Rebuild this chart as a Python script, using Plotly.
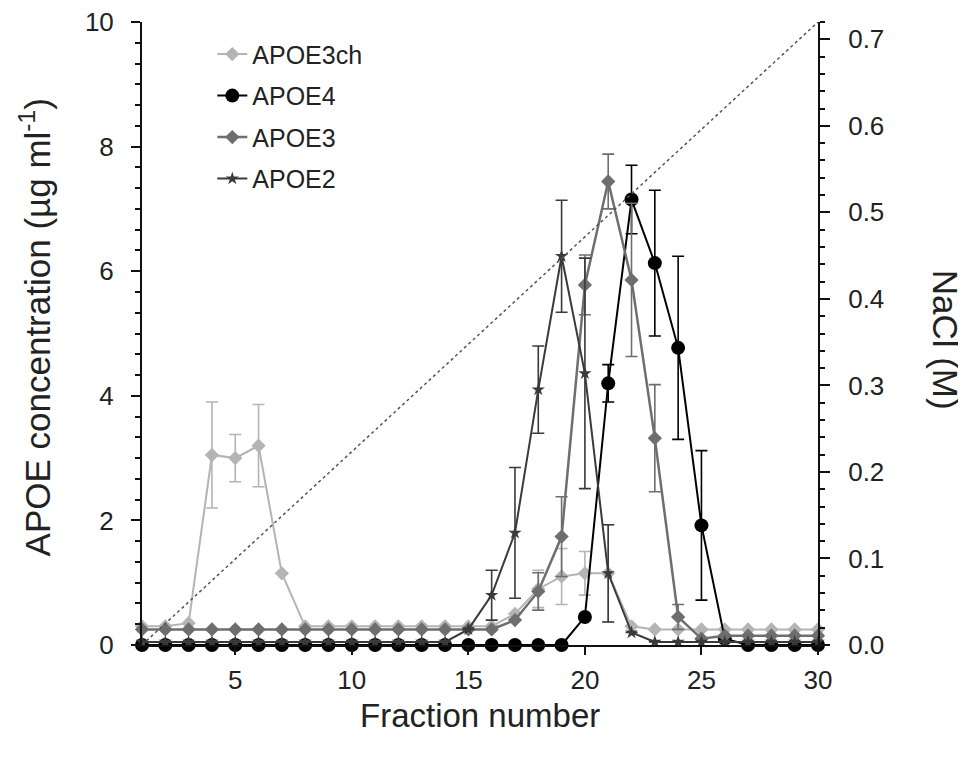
import plotly.graph_objects as go

fraction = list(range(1, 31))

apoe3ch = [0.3, 0.3, 0.35, 3.05, 3.0, 3.2, 1.15, 0.3, 0.3, 0.3,
           0.3, 0.3, 0.3, 0.3, 0.3, 0.3, 0.5, 0.9, 1.1, 1.15,
           1.15, 0.3, 0.25, 0.25, 0.25, 0.25, 0.25, 0.25, 0.25, 0.25]
apoe3ch_err = [0, 0, 0, 0.85, 0.38, 0.66, 0, 0, 0, 0,
               0, 0, 0, 0, 0, 0, 0, 0.3, 0.45, 0.35,
               0.78, 0, 0, 0, 0, 0, 0, 0, 0, 0]

apoe4 = [0] * 19 + [0.45, 4.2, 7.15, 6.13, 4.77, 1.92, 0.1, 0, 0, 0, 0]
apoe4_err = [0] * 19 + [0, 0.3, 0.55, 1.17, 1.47, 1.2, 0, 0, 0, 0, 0]

apoe3 = [0.25] * 15 + [0.25, 0.4, 0.86, 1.74, 5.78, 7.44, 5.86, 3.32, 0.45, 0.1,
                       0.15, 0.15, 0.15, 0.15, 0.15]
apoe3_err = [0] * 15 + [0, 0, 0.3, 0.64, 0.48, 0.44, 1.23, 0.86, 0.2, 0,
                        0, 0, 0, 0, 0]

apoe2 = [0.05] * 14 + [0.25, 0.8, 1.8, 4.1, 6.24, 4.36, 1.15, 0.2,
                       0.05, 0.05, 0.05, 0.05, 0.05, 0.05, 0.05, 0.05]
apoe2_err = [0] * 14 + [0, 0.4, 1.05, 0.7, 0.9, 1.85, 0.78, 0,
                        0, 0, 0, 0, 0, 0, 0, 0]

nacl_fraction = [1, 30]
nacl_conc = [0.0, 0.72]

x_ticks = [5, 10, 15, 20, 25, 30]
y_ticks = [0, 2, 4, 6, 8, 10]
y2_ticks = [0.0, 0.1, 0.2, 0.3, 0.4, 0.5, 0.6, 0.7]

FONT = "Liberation Sans, Arial, sans-serif"
TXT = "#222222"

fig = go.Figure()

fig.add_trace(go.Scatter(
    x=nacl_fraction, y=nacl_conc, yaxis="y2", mode="lines",
    line=dict(color="#555555", width=1.5, dash="dot"),
    showlegend=False, hoverinfo="skip"))

def add_series(name, y, err, color, symbol, size, lw, group):
    fig.add_trace(go.Scatter(
        x=fraction, y=y, name=name, mode="lines+markers",
        line=dict(color=color, width=lw),
        marker=dict(symbol=symbol, size=size, color=color,
                    line=dict(width=0)),
        error_y=dict(type="data", array=err, visible=True,
                     color=color, thickness=1.6, width=6),
        legendgroup=group, cliponaxis=False))

add_series("APOE3ch", apoe3ch, apoe3ch_err, "#b4b4b4", "diamond", 11, 2, "g1")
add_series("APOE4", apoe4, apoe4_err, "#000000", "circle", 14, 2, "g2")
add_series("APOE3", apoe3, apoe3_err, "#6e6e6e", "diamond", 11, 2.5, "g3")
add_series("APOE2", apoe2, apoe2_err, "#3a3a3a", "star", 10, 2, "g4")

fig.update_layout(
    width=958, height=757,
    margin=dict(l=134, r=148, t=14, b=120, autoexpand=False),
    paper_bgcolor="white", plot_bgcolor="white",
    font=dict(family=FONT, size=22, color=TXT),
    showlegend=True,
    legend=dict(x=0.104, y=0.985, xanchor="left", yanchor="top",
                bgcolor="rgba(0,0,0,0)", traceorder="grouped",
                tracegroupgap=6, font=dict(size=25, color=TXT)),
    xaxis=dict(range=[1, 30], tickvals=x_ticks, showgrid=False, zeroline=False,
               showline=True, linecolor="#111111", linewidth=2,
               ticks="outside", ticklen=8, tickwidth=2, tickcolor="#111111",
               ticklabelstandoff=3, ticklabeloverflow="allow", automargin=False,
               tickfont=dict(size=26, color=TXT)),
    yaxis=dict(range=[0, 10], tickvals=y_ticks, showgrid=False, zeroline=False,
               showline=True, linecolor="#111111", linewidth=2,
               ticks="outside", ticklen=9, tickwidth=2, tickcolor="#111111",
               minor=dict(dtick=1/3, ticks="outside", ticklen=5,
                          tickcolor="#111111", showgrid=False),
               ticklabelstandoff=12, ticklabeloverflow="allow", automargin=False,
               tickfont=dict(size=26, color=TXT)),
    yaxis2=dict(range=[0, 0.72], tickvals=y2_ticks, tickformat=".1f",
                overlaying="y", side="right", showgrid=False, zeroline=False,
                showline=True, linecolor="#111111", linewidth=2,
                ticks="outside", ticklen=10, tickwidth=2, tickcolor="#111111",
                minor=dict(dtick=0.02, ticks="outside", ticklen=5,
                           tickcolor="#111111", showgrid=False),
                ticklabelstandoff=13, ticklabeloverflow="allow", automargin=False,
                tickfont=dict(size=26, color=TXT)),
    annotations=[
        dict(text="Fraction number", xref="paper", yref="paper",
             x=0.5, y=-0.1124, xanchor="center", yanchor="middle",
             showarrow=False, font=dict(size=33, color=TXT)),
        dict(text="APOE concentration (µg ml<sup>-1</sup>)", xref="paper",
             yref="paper", x=-0.158, y=0.51, xanchor="center", yanchor="middle",
             textangle=-90, showarrow=False, font=dict(size=35, color=TXT)),
        dict(text="NaCl (M)", xref="paper", yref="paper",
             x=1.188, y=0.49, xanchor="center", yanchor="middle",
             textangle=90, showarrow=False, font=dict(size=35, color=TXT)),
    ],
)

fig.write_html("out.html")
